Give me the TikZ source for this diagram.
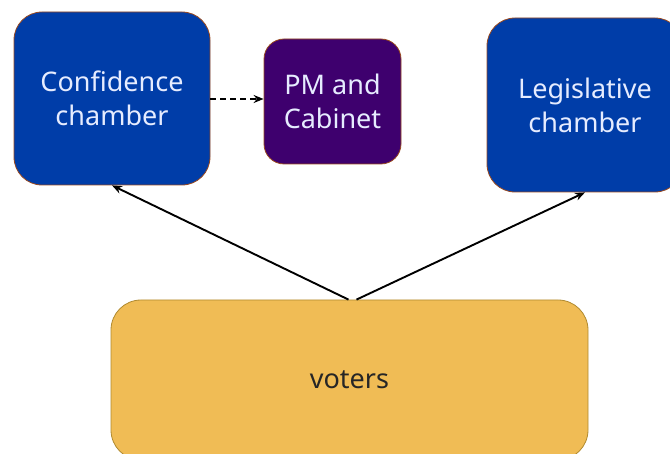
\documentclass[tikz,border=0pt]{standalone}
\usepackage{fontspec}
\setmainfont{Noto Sans}
\usetikzlibrary{arrows.meta,calc}
\definecolor{cblue}{HTML}{003DA8}
\definecolor{cpurple}{HTML}{3E006E}
\definecolor{cgold}{HTML}{F0BC55}
\definecolor{cgoldline}{HTML}{B08A30}
\definecolor{cbrown}{HTML}{9A4A20}
\definecolor{ctext}{HTML}{E6ECFF}
\tikzset{
  chamber/.style={draw=cbrown, line width=0.8pt, fill=cblue, rounded corners=28pt,
    text=ctext, align=center, font=\fontsize{27}{34}\selectfont, inner sep=0pt},
  pmbox/.style={draw=cbrown, line width=0.8pt, fill=cpurple, rounded corners=20pt,
    text=ctext, align=center, font=\fontsize{27}{34}\selectfont, inner sep=0pt},
  votebox/.style={draw=cgoldline, line width=0.8pt, fill=cgold, rounded corners=30pt,
    text=black!85, align=center, font=\fontsize{27}{34}\selectfont, inner sep=0pt},
  conn/.style={line width=1.9pt, -{Stealth[length=10pt,width=8pt]}},
}
\begin{document}
\begin{tikzpicture}[x=1pt,y=-1pt]
\useasboundingbox (0,0) rectangle (670,454);
\clip (0,0) rectangle (670,454);
\node[chamber, minimum width=196pt, minimum height=173pt] (conf) at (112,98.5) {Confidence\\chamber};
\node[pmbox, minimum width=137pt, minimum height=125pt] (pm) at (332.5,101.5) {PM and\\Cabinet};
\node[chamber, minimum width=196pt, minimum height=174pt] (leg) at (585,105) {Legislative\\chamber};
\node[votebox, minimum width=477pt, minimum height=160pt] (voters) at (349.5,380) {voters};
\draw[conn, dashed, dash pattern=on 6pt off 4pt] (conf.east |- 0,99) coordinate (d0) -- (d0 -| pm.west);
\draw[conn] ($(voters.north)+(-1,0)$) -- (conf.south);
\draw[conn] ($(voters.north)+(7,0)$) -- (leg.south);
\end{tikzpicture}
\end{document}
